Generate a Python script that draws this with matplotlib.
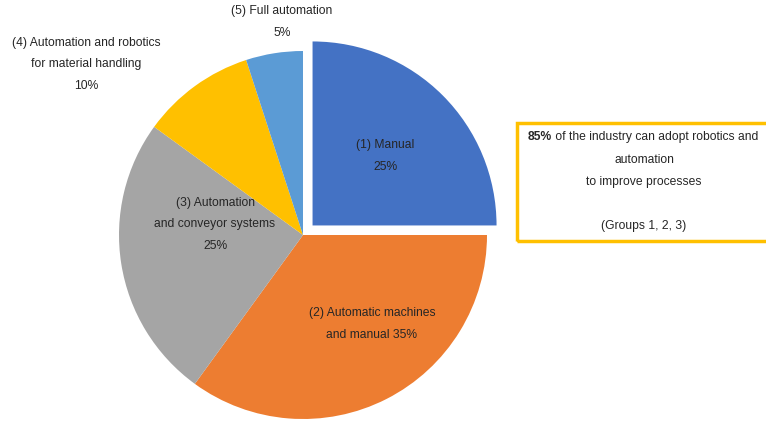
import matplotlib.pyplot as plt

plt.rcParams['font.family'] = ['Liberation Sans', 'DejaVu Sans']

# shares of the industry by automation level
groups = ['(1) Manual', '(2) Automatic machines and manual',
          '(3) Automation and conveyor systems',
          '(4) Automation and robotics for material handling',
          '(5) Full automation']
shares = [25, 35, 25, 10, 5]
colors = ['#4472C4', '#ED7D31', '#A5A5A5', '#FFC000', '#5B9BD5']
explode = [13.5, 0, 0, 0, 0]   # offset in pixels (explode is not scaled by radius)

# label lines for each slice, and where they sit (pixel coords, y from top)
label_lines = [
    ['(1) Manual', '25%'],
    ['(2) Automatic machines', 'and manual 35%'],
    ['(3) Automation', 'and conveyor systems', '25%'],
    ['(4) Automation and robotics', 'for material handling', '10%'],
    ['(5) Full automation', '5%'],
]
label_pos = [(385, 145), (372, 313), (215, 203), (86, 43), (282, 11)]
line_step = 21.5
fs = 8.75

W, H = 766, 421
fig = plt.figure(figsize=(W / 100, H / 100), dpi=100)
ax = fig.add_axes([0, 0, 1, 1])

ax.pie(shares, colors=colors, explode=explode, startangle=90,
       counterclock=False, radius=184, center=(303, H - 235),
       wedgeprops=dict(linewidth=0))
ax.set_xlim(0, W)
ax.set_ylim(0, H)
ax.set_aspect('equal')
ax.axis('off')

txt_color = '#262626'
for lines, (x, y) in zip(label_lines, label_pos):
    for i, line in enumerate(lines):
        ax.text(x, H - (y + i * line_step), line, ha='center', va='center',
                fontsize=fs, color=txt_color)

# callout box on the right
box = plt.Rectangle((517, H - 241), 260, 118, fill=False,
                    edgecolor='#FFC000', linewidth=2.5, clip_on=True)
ax.add_patch(box)

t1 = ax.text(528, H - 137, '85%', ha='left', va='center', fontsize=fs,
             fontweight='bold', color=txt_color)
ax.annotate(' of the industry can adopt robotics and', xy=(1, 0),
            xycoords=t1, ha='left', va='bottom', fontsize=fs, color=txt_color)
for line, y in [('automation', 160), ('to improve processes', 182),
                ('(Groups 1, 2, 3)', 226)]:
    ax.text(644, H - y, line, ha='center', va='center', fontsize=fs,
            color=txt_color)

fig.savefig('out.png', dpi=100)
